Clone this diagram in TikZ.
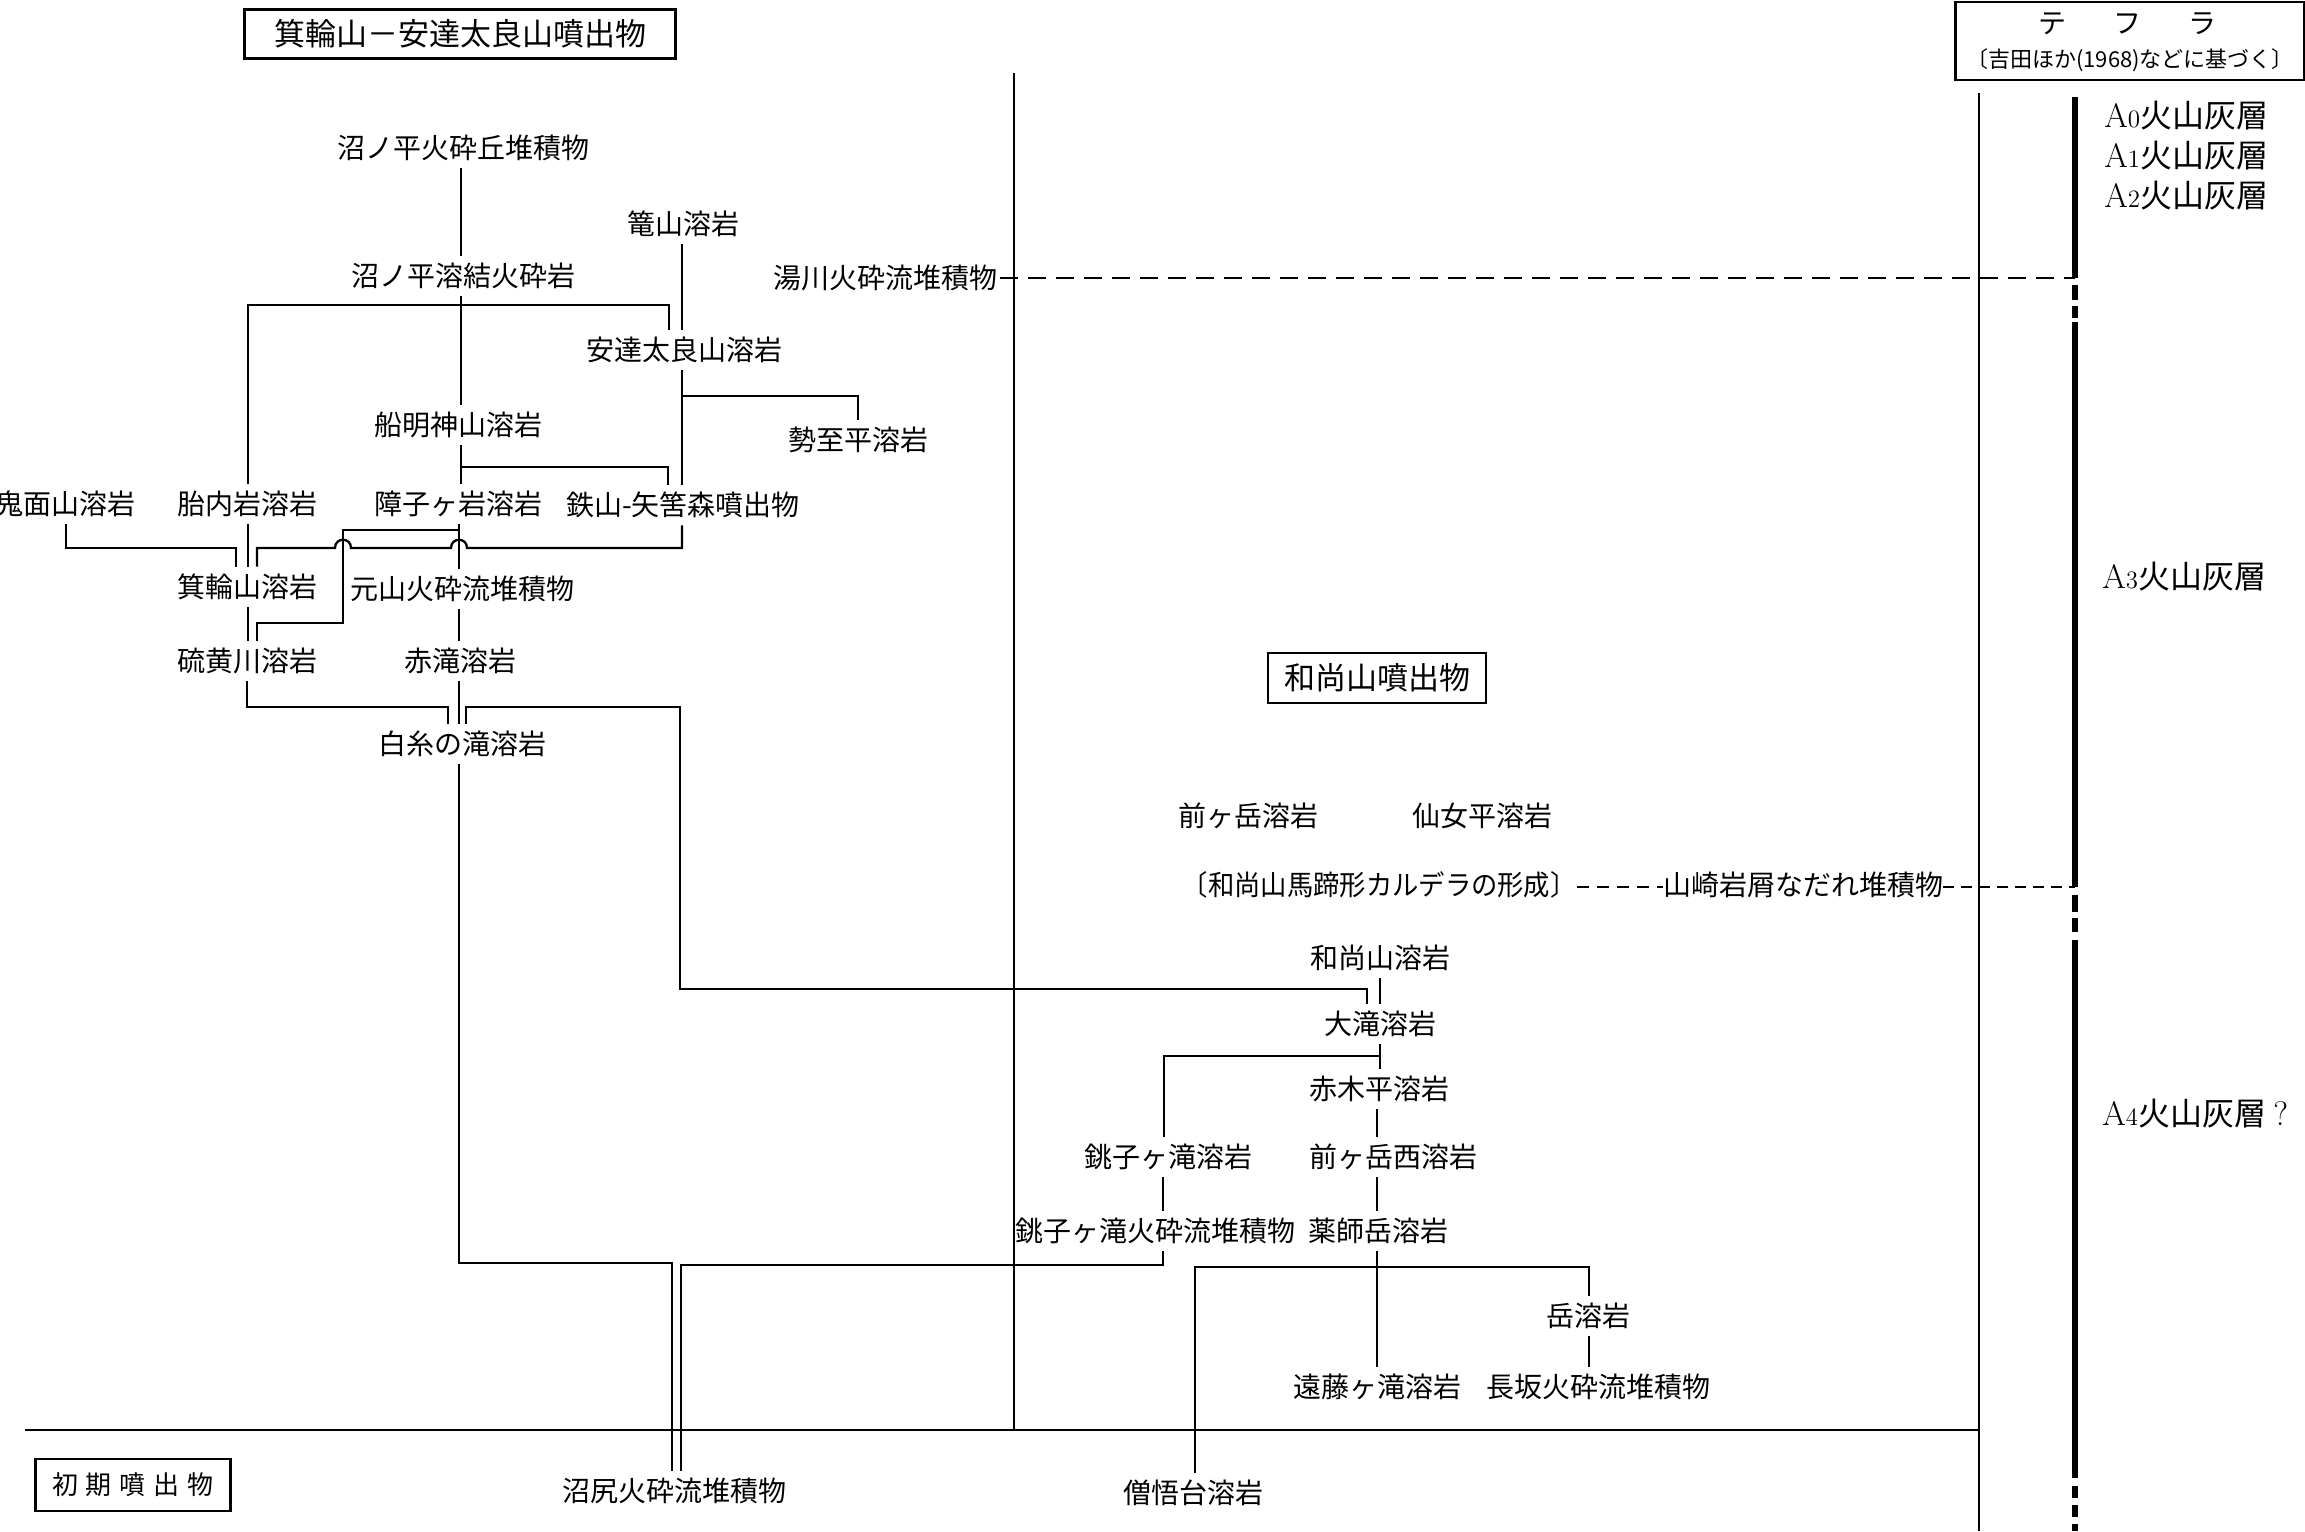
\documentclass[tikz,border=0pt]{standalone}
\usepackage{fontspec}
\newfontfamily\jp{Noto Sans CJK JP}
\begin{document}
\begin{tikzpicture}[x=0.5pt,y=-0.5pt,
  lbl/.style={inner xsep=0pt, inner ysep=3pt, text height=12pt, text depth=2pt, font=\jp\fontsize{14pt}{16pt}\selectfont},
  ln/.style={line width=1.15pt},
  boxed/.style={draw, line width=1.15pt, inner sep=0pt},
  thinln/.style={line width=0.9pt},
  boldln/.style={line width=2.6pt},
  tlbl/.style={inner sep=0pt, anchor=west, text height=12pt, text depth=2pt, font=\jp\fontsize{16pt}{18pt}\selectfont},
  dashA/.style={line width=1.1pt, dash pattern=on 9pt off 5pt},
  dashB/.style={line width=1.1pt, dash pattern=on 6pt off 4pt},
  dashC/.style={line width=1.1pt, dash pattern=on 5.5pt off 3.5pt}]
\useasboundingbox (0,0) rectangle (2305,1531);
\fill[white] (0,0) rectangle (2305,1531);
\newcommand{\Anum}[1]{{\fontsize{17pt}{17pt}\selectfont\rmfamily A}{\fontsize{12.5pt}{12.5pt}\selectfont\rmfamily #1}}

% boxes
\node[boxed, minimum width=215.5pt, minimum height=24.5pt, font=\jp\fontsize{15.5pt}{17pt}\selectfont] (title) at (460,34) {箕輪山－安達太良山噴出物};
\node[boxed, minimum width=109pt, minimum height=25pt, font=\jp\fontsize{15.5pt}{17pt}\selectfont] (oshobox) at (1377,678) {和尚山噴出物};
\node[boxed, minimum width=97.5pt, minimum height=26pt, font=\jp\fontsize{13pt}{15pt}\selectfont] (shoki) at (133,1485) {初\hspace{4pt}期\hspace{4pt}噴\hspace{4pt}出\hspace{4pt}物};
\node[boxed, minimum width=174.5pt, minimum height=39pt] (tbox) at (2130,41) {};
\node[inner sep=0pt, font=\jp\fontsize{14pt}{16pt}\selectfont] (tephra) at (2127,24) {テ\hspace{23.5pt}フ\hspace{23.5pt}ラ};
\node[inner sep=0pt, font=\jp\fontsize{11pt}{13pt}\selectfont] (yoshida) at (2130,60) {〔吉田ほか(1968)などに基づく〕};

% tephra labels
\node[tlbl] (a0) at (2104,117) {\Anum{0}火山灰層};
\node[tlbl] (a1) at (2104,157) {\Anum{1}火山灰層};
\node[tlbl] (a2) at (2104,197) {\Anum{2}火山灰層};
\node[tlbl] (a3) at (2102,578) {\Anum{3}火山灰層};
\node[tlbl] (a4) at (2102,1115) {\Anum{4}火山灰層 {\fontsize{17pt}{17pt}\selectfont\rmfamily ?}};

% labels
\node[lbl] (numa1) at (463,148) {沼ノ平火砕丘堆積物};
\node[lbl] (kago) at (683,224) {篭山溶岩};
\node[lbl] (numa2) at (463,276) {沼ノ平溶結火砕岩};
\node[lbl] (yukawa) at (885,278) {湯川火砕流堆積物};
\node[lbl] (adatara) at (684,350) {安達太良山溶岩};
\node[lbl] (funa) at (458,425) {船明神山溶岩};
\node[lbl] (sesshi) at (858,440) {勢至平溶岩};
\node[lbl] (kimen) at (66,504) {鬼面山溶岩};
\node[lbl] (taina) at (247,504) {胎内岩溶岩};
\node[lbl] (shoji) at (458,504) {障子ヶ岩溶岩};
\node[lbl] (tetsu) at (683,505) {鉄山-矢筈森噴出物};
\node[lbl] (minowa) at (247,587) {箕輪山溶岩};
\node[lbl] (motoyama) at (462,589) {元山火砕流堆積物};
\node[lbl] (iou) at (247,661) {硫黄川溶岩};
\node[lbl] (akataki) at (460,661) {赤滝溶岩};
\node[lbl] (shiraito) at (462,744) {白糸の滝溶岩};
\node[lbl] (maegatake) at (1248,816) {前ヶ岳溶岩};
\node[lbl] (sennyo) at (1482,816) {仙女平溶岩};
\node[lbl, anchor=east] (caldera) at (1577,885) {\scalebox{0.94}[1]{〔和尚山馬蹄形カルデラの形成〕}};
\node[lbl] (yamasaki) at (1803,885) {山崎岩屑なだれ堆積物};
\node[lbl] (osho) at (1380,958) {和尚山溶岩};
\node[lbl] (ootaki) at (1380,1024) {大滝溶岩};
\node[lbl] (akagi) at (1379,1089) {赤木平溶岩};
\node[lbl] (choyo) at (1168,1157) {銚子ヶ滝溶岩};
\node[lbl] (maenishi) at (1393,1157) {前ヶ岳西溶岩};
\node[lbl] (chokai) at (1155,1231) {銚子ヶ滝火砕流堆積物};
\node[lbl] (yakushi) at (1378,1231) {薬師岳溶岩};
\node[lbl] (take) at (1588,1316) {岳溶岩};
\node[lbl] (endo) at (1377,1387) {遠藤ヶ滝溶岩};
\node[lbl] (nagasaka) at (1598,1387) {長坂火砕流堆積物};
\node[lbl] (numajiri) at (674,1491) {沼尻火砕流堆積物};
\node[lbl] (sougo) at (1193,1493) {僧悟台溶岩};

% junction coordinates
\coordinate (j1) at (682,396);
\coordinate (j2) at (461,467);
\coordinate (j3) at (459,530);
\coordinate (j4) at (1380,1056);
\coordinate (dtop) at (1014,73);
\coordinate (dbot) at (1014,1430);
\coordinate (hl) at (25,1430);
\coordinate (hr) at (1979,1430);
\coordinate (ttop) at (1979,93);
\coordinate (tbot) at (1979,1531);
\coordinate (yk) at (2075,278);
\coordinate (ym) at (2075,887);

% frame lines
\draw[thinln] (dtop) -- (dbot);
\draw[thinln] (hl) -- (hr);
\draw[thinln] (ttop) -- (tbot);
\draw[boldln] (2075,97) -- (yk);
\draw[boldln] (2075,285) -- (2075,300) (2075,306) -- (2075,318);
\draw[boldln] (2075,322) -- (ym);
\draw[boldln] (2075,895) -- (2075,912) (2075,918) -- (2075,932);
\draw[boldln] (2075,940) -- (2075,1478);
\draw[boldln] (2075,1486) -- (2075,1498) (2075,1505) -- (2075,1517) (2075,1524) -- (2075,1531);
\draw[dashA] (yukawa.east) ++(3,0) -- (yk);
\draw[dashB] (caldera.east |- 0,887) -- (yamasaki.west |- 0,887);
\draw[dashC] (yamasaki.east |- 0,887) -- (ym);

% Minowa - Adatara connectors
\draw[ln] (numa1.south -| 461,0) -- (numa2.north -| 461,0);
\draw[ln] (numa2.south -| 461,0) -- (funa.north -| 461,0);
\draw[ln] (taina.north -| 248,0) |- (669,305) -- (adatara.north -| 669,0);
\draw[ln] (kago.south -| 682,0) -- (adatara.north -| 682,0);
\draw[ln] (adatara.south -| 682,0) -- (tetsu.north -| 682,0);
\draw[ln] (j1) -| (sesshi.north -| 858,0);
\draw[ln] (funa.south -| 461,0) -- (shoji.north -| 461,0);
\draw[ln] (j2) -| (tetsu.north -| 668,0);
\draw[ln] (kimen.south -| 66,0) |- (236,548) -- (minowa.north -| 236,0);
\draw[ln] (taina.south -| 248,0) -- (minowa.north -| 248,0);
\draw[ln] (minowa.north -| 257,0) -- (257,548) -- (335,548)
   .. controls (335,537) and (351,537) .. (351,548) -- (451,548)
   .. controls (451,537) and (467,537) .. (467,548) -- (682,548) -- (tetsu.south -| 682,0);
\draw[ln] (shoji.south -| 459,0) -- (motoyama.north -| 459,0);
\draw[ln] (j3) -- (343,530) -- (343,623) -- (257,623) -- (iou.north -| 257,0);
\draw[ln] (minowa.south -| 248,0) -- (iou.north -| 248,0);
\draw[ln] (motoyama.south -| 459,0) -- (akataki.north -| 459,0);
\draw[ln] (iou.south -| 247,0) |- (448,707) -- (shiraito.north -| 448,0);
\draw[ln] (akataki.south -| 459,0) -- (shiraito.north -| 459,0);
\draw[ln] (shiraito.north -| 466,0) |- (680,707) -- (680,989) -| (ootaki.north -| 1367,0);
\draw[ln] (shiraito.south -| 459,0) |- (672,1263) -- (numajiri.north -| 672,0);
\draw[ln] (chokai.south -| 1163,0) |- (681,1265) -- (numajiri.north -| 681,0);

% Osho-yama connectors
\draw[ln] (osho.south -| 1380,0) -- (ootaki.north -| 1380,0);
\draw[ln] (ootaki.south -| 1380,0) -- (akagi.north -| 1380,0);
\draw[ln] (j4) -| (choyo.north -| 1164,0);
\draw[ln] (akagi.south -| 1377,0) -- (maenishi.north -| 1377,0);
\draw[ln] (choyo.south -| 1163,0) -- (chokai.north -| 1163,0);
\draw[ln] (maenishi.south -| 1377,0) -- (yakushi.north -| 1377,0);
\draw[ln] (yakushi.south -| 1377,0) -- (endo.north -| 1377,0);
\draw[ln] (sougo.north -| 1195,0) |- (1589,1267) -- (take.north -| 1589,0);
\draw[ln] (take.south -| 1589,0) -- (nagasaka.north -| 1589,0);
\end{tikzpicture}
\end{document}
